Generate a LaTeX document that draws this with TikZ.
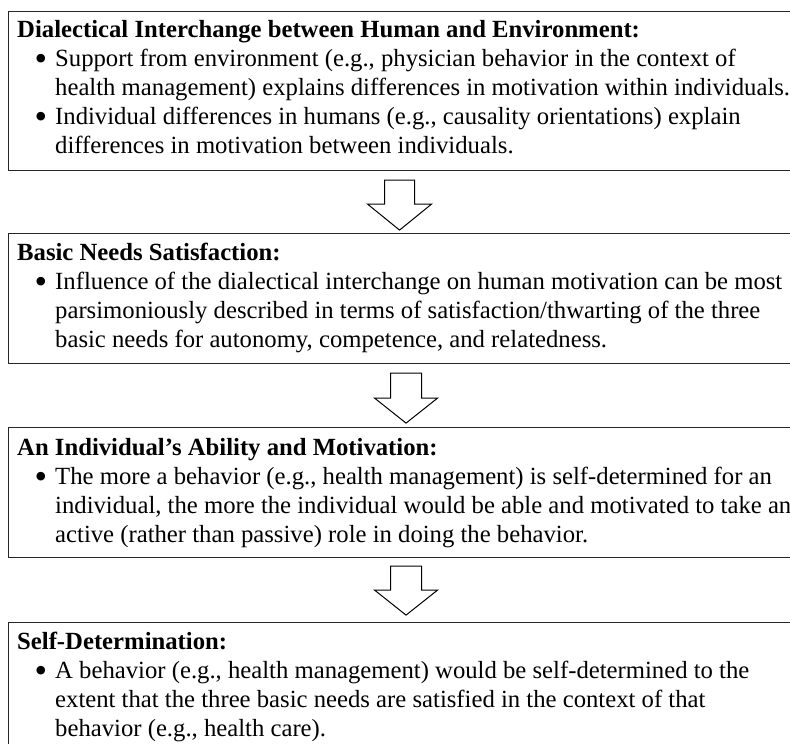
\documentclass[tikz,border=0pt]{standalone}
\usepackage{fontspec}
\setmainfont{Liberation Serif}
\usetikzlibrary{positioning}
\newcommand{\itembullet}{\makebox[38pt][r]{\raisebox{-4.5pt}{\scalebox{1.45}{\textbullet}}\hspace{8pt}}}
\newcommand{\itemhang}{\hspace*{38pt}}
\begin{document}
\begin{tikzpicture}[x=1pt,y=1pt,yscale=-1,
    panel/.style={draw=black!85, line width=1.1pt, rectangle, inner sep=0pt, anchor=north west, minimum width=800pt},
    boxtext/.style={anchor=base west, align=left, inner sep=0pt, font=\fontsize{24.7}{29}\selectfont},
    blockarrow/.style={draw=black, line width=1pt, fill=white, line join=miter}]
    \useasboundingbox (0,0) rectangle (790,744);
    \clip (0,0) rectangle (790,744);
    %Panels
    \node[panel, minimum height=159pt] (box1) at (8,11) {};
    \node[panel, minimum height=130pt] (box2) at (8,233) {};
    \node[panel, minimum height=130pt] (box3) at (8,427) {};
    \node[panel, minimum height=150pt] (box4) at (8,622) {};

    %Block arrows between panels
    \draw[blockarrow] (box1.south) ++(-24,9) -- ++(0,24) -- ++(-17,0) -- ++(32,26) -- ++(32,-26) -- ++(-17,0) -- ++(0,-24) -- cycle;
    \draw[blockarrow] (box2.south) ++(-18,9) -- ++(0,25) -- ++(-16,0) -- ++(31.5,25) -- ++(31.5,-25) -- ++(-16,0) -- ++(0,-25) -- cycle;
    \draw[blockarrow] (box3.south) ++(-18,8) -- ++(0,24) -- ++(-16,0) -- ++(31.5,25) -- ++(31.5,-25) -- ++(-16,0) -- ++(0,-24) -- cycle;

    % Text Node (anchored on the baseline of its last line)
    \node[boxtext] (text1) at (17,153) {\textbf{Dialectical Interchange between Human and Environment:}\\
        \itembullet Support from environment (e.g., physician behavior in the context of\\
        \itemhang health management) explains differences in motivation within individuals.\\
        \itembullet Individual differences in humans (e.g., causality orientations) explain\\
        \itemhang differences in motivation between individuals.};
    % Text Node
    \node[boxtext] (text2) at (17,347) {\textbf{Basic Needs Satisfaction:}\\
        \itembullet Influence of the dialectical interchange on human motivation can be most\\
        \itemhang parsimoniously described in terms of satisfaction/thwarting of the three\\
        \itemhang basic needs for autonomy, competence, and relatedness.};
    % Text Node
    \node[boxtext] (text3) at (17,542) {\textbf{An Individual’s Ability and Motivation:}\\
        \itembullet The more a behavior (e.g., health management) is self-determined for an\\
        \itemhang individual, the more the individual would be able and motivated to take an\\
        \itemhang active (rather than passive) role in doing the behavior.};
    % Text Node
    \node[boxtext] (text4) at (17,736) {\textbf{Self-Determination:}\\
        \itembullet A behavior (e.g., health management) would be self-determined to the\\
        \itemhang extent that the three basic needs are satisfied in the context of that\\
        \itemhang behavior (e.g., health care).};
\end{tikzpicture}
\end{document}
